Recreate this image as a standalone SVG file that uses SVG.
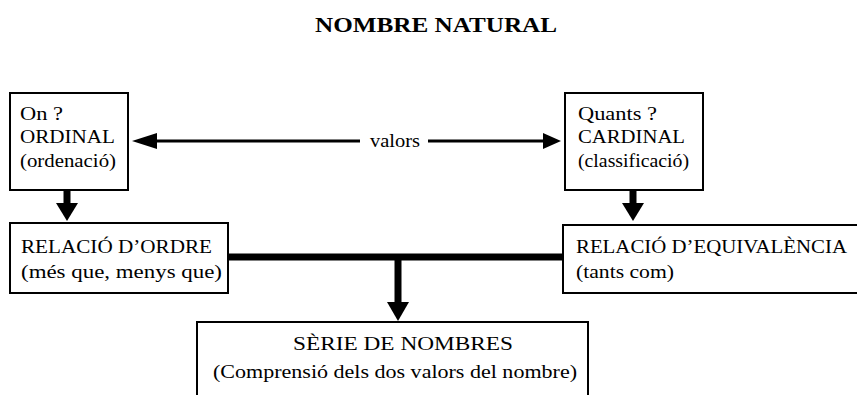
<svg xmlns="http://www.w3.org/2000/svg" width="857" height="395" viewBox="0 0 857 395">
<style>
.box{fill:#fff;stroke:#000;stroke-width:2}
.t{font-family:"Liberation Serif","Times New Roman",serif;font-size:19px;fill:#000}
.title{font-family:"Liberation Serif","Times New Roman",serif;font-size:22px;font-weight:bold;fill:#000}
.thick{stroke:#000;stroke-width:7;fill:none}
.thin{stroke:#000;stroke-width:3;fill:none}
.head{fill:#000;stroke:none}
</style>
<rect width="857" height="395" fill="#fff"/>
<text class="title" x="436" y="32" text-anchor="middle" textLength="242" lengthAdjust="spacingAndGlyphs">NOMBRE NATURAL</text>

<g id="ordinal">
<rect class="box" x="10" y="93" width="118" height="97"/>
<text class="t" x="20" y="120" textLength="43" lengthAdjust="spacingAndGlyphs">On ?</text>
<text class="t" x="20" y="143" textLength="95" lengthAdjust="spacingAndGlyphs">ORDINAL</text>
<text class="t" x="20" y="167" textLength="96" lengthAdjust="spacingAndGlyphs">(ordenació)</text>
</g>

<g id="cardinal">
<rect class="box" x="565" y="93" width="138" height="97"/>
<text class="t" x="578" y="120" textLength="79" lengthAdjust="spacingAndGlyphs">Quants ?</text>
<text class="t" x="578" y="143" textLength="107" lengthAdjust="spacingAndGlyphs">CARDINAL</text>
<text class="t" x="578" y="167" textLength="111" lengthAdjust="spacingAndGlyphs">(classificació)</text>
</g>

<g id="ordre">
<rect class="box" x="10" y="223" width="218" height="70"/>
<text class="t" x="21" y="253" textLength="191" lengthAdjust="spacingAndGlyphs">RELACIÓ D’ORDRE</text>
<text class="t" x="21" y="278" textLength="201" lengthAdjust="spacingAndGlyphs">(més que, menys que)</text>
</g>

<g id="equivalencia">
<rect class="box" x="563" y="225" width="300" height="68"/>
<text class="t" x="576" y="253" textLength="271" lengthAdjust="spacingAndGlyphs">RELACIÓ D’EQUIVALÈNCIA</text>
<text class="t" x="576" y="278" textLength="98" lengthAdjust="spacingAndGlyphs">(tants com)</text>
</g>

<g id="serie">
<rect class="box" x="197" y="322" width="391" height="90"/>
<text class="t" x="403" y="350" text-anchor="middle" textLength="220" lengthAdjust="spacingAndGlyphs">SÈRIE DE NOMBRES</text>
<text class="t" x="395" y="378" text-anchor="middle" textLength="364" lengthAdjust="spacingAndGlyphs">(Comprensió dels dos valors del nombre)</text>
</g>

<g id="connectors">
<line class="thin" x1="150" y1="141" x2="360" y2="141"/>
<line class="thin" x1="428" y1="141" x2="545" y2="141"/>
<polygon class="head" points="132,141 157,133 157,149"/>
<polygon class="head" points="561,141 543,133 543,149"/>
<text class="t" x="395" y="147" text-anchor="middle" textLength="50" lengthAdjust="spacingAndGlyphs">valors</text>

<line class="thick" x1="67" y1="190" x2="67" y2="205"/>
<polygon class="head" points="56,203 78,203 67,221"/>
<line class="thick" x1="633" y1="190" x2="633" y2="205"/>
<polygon class="head" points="622,203 644,203 633,221"/>

<line class="thick" x1="228" y1="257" x2="563" y2="257"/>
<line class="thick" x1="398" y1="257" x2="398" y2="304"/>
<polygon class="head" points="387,302 409,302 398,321"/>
</g>
</svg>
